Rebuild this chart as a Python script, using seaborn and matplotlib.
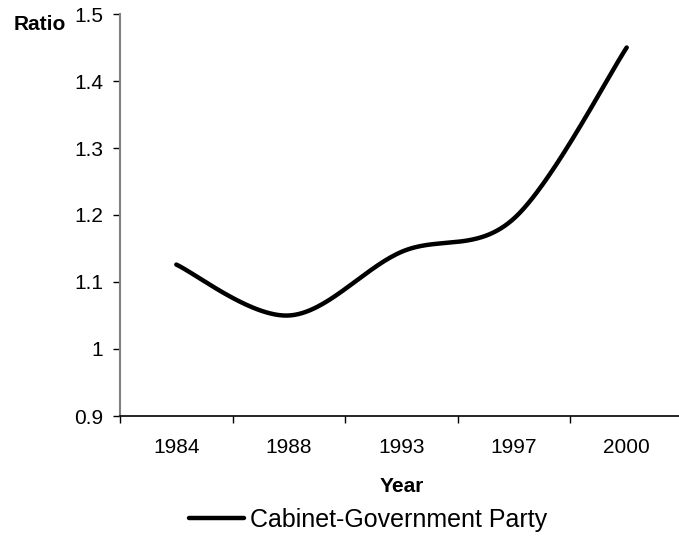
import numpy as np
import pandas as pd
import matplotlib
matplotlib.use("Agg")
import matplotlib.pyplot as plt
import seaborn as sns

years = ["1984", "1988", "1993", "1997", "2000"]
ratio = [1.126, 1.05, 1.145, 1.195, 1.45]
series_name = "Cabinet-Government Party"

sns.set_style("white")
plt.rcParams['font.family'] = ['Liberation Sans', 'DejaVu Sans']
plt.rcParams['text.color'] = 'black'
plt.rcParams['xtick.color'] = 'black'
plt.rcParams['ytick.color'] = 'black'
plt.rcParams['axes.labelcolor'] = 'black'


def smooth_curve(yvals, n=60):
    # Excel-style smoothed line: Catmull-Rom style bezier through every point
    xs = np.arange(len(yvals), dtype=float)
    ys = np.asarray(yvals, dtype=float)
    px = np.concatenate([[xs[0]], xs, [xs[-1]]])
    py = np.concatenate([[ys[0]], ys, [ys[-1]]])
    out_x, out_y = [], []
    t = np.linspace(0, 1, n)
    for i in range(len(xs) - 1):
        p0 = np.array([px[i + 1], py[i + 1]])
        p3 = np.array([px[i + 2], py[i + 2]])
        c1 = p0 + (p3 - np.array([px[i], py[i]])) / 6
        c2 = p3 - (np.array([px[i + 3], py[i + 3]]) - p0) / 6
        b = ((1 - t) ** 3)[:, None] * p0 + (3 * (1 - t) ** 2 * t)[:, None] * c1 \
            + (3 * (1 - t) * t ** 2)[:, None] * c2 + (t ** 3)[:, None] * p3
        out_x.extend(b[:, 0])
        out_y.extend(b[:, 1])
    return np.array(out_x), np.array(out_y)


sx, sy = smooth_curve(ratio)
df = pd.DataFrame({"pos": sx, "Ratio": sy, "series": series_name})

fig = plt.figure(figsize=(6.79, 5.37), dpi=100)
ax = fig.add_axes([120 / 679, 1 - 416 / 537, 563 / 679, 402 / 537])

sns.lineplot(data=df, x="pos", y="Ratio", hue="series", palette=["black"],
             linewidth=3.2, sort=False, estimator=None, ax=ax)
for line in ax.get_lines():
    line.set_solid_capstyle("round")

ax.set_xlim(-0.5, len(years) - 0.5)
ax.set_ylim(0.9, 1.5)
ax.set_yticks([0.9, 1.0, 1.1, 1.2, 1.3, 1.4, 1.5])
ax.set_yticklabels(["0.9", "1", "1.1", "1.2", "1.3", "1.4", "1.5"])

# category boundaries get tick marks, labels sit in the middle
ax.set_xticks(np.arange(len(years) + 1) - 0.5)
ax.set_xticklabels([])
ax.set_xticks(np.arange(len(years)), minor=True)
ax.set_xticklabels(years, minor=True)
ax.tick_params(axis="x", which="major", direction="out", length=5, width=1, color="black", bottom=True)
ax.tick_params(axis="x", which="minor", length=0, pad=16, labelsize=15)
ax.tick_params(axis="y", direction="out", length=5, width=1, color="black", left=True, labelsize=15, pad=7)

for side in ["top", "right"]:
    ax.spines[side].set_visible(False)
ax.spines["left"].set_color("#808080")
ax.spines["left"].set_linewidth(1.5)
ax.spines["bottom"].set_color("black")
ax.spines["bottom"].set_linewidth(1.2)

ax.set_xlabel("Year", fontsize=15, fontweight="bold", labelpad=14)
ax.set_ylabel("")
fig.text(14 / 679, 1 - 25 / 537, "Ratio", fontsize=15, fontweight="bold", va="center", ha="left")

leg = ax.legend(loc="center", bbox_to_anchor=(368 / 679, 1 - 520 / 537),
                bbox_transform=fig.transFigure, frameon=False, fontsize=18,
                handlelength=2.2, handletextpad=0.25)

fig.savefig("out.png", dpi=100)
